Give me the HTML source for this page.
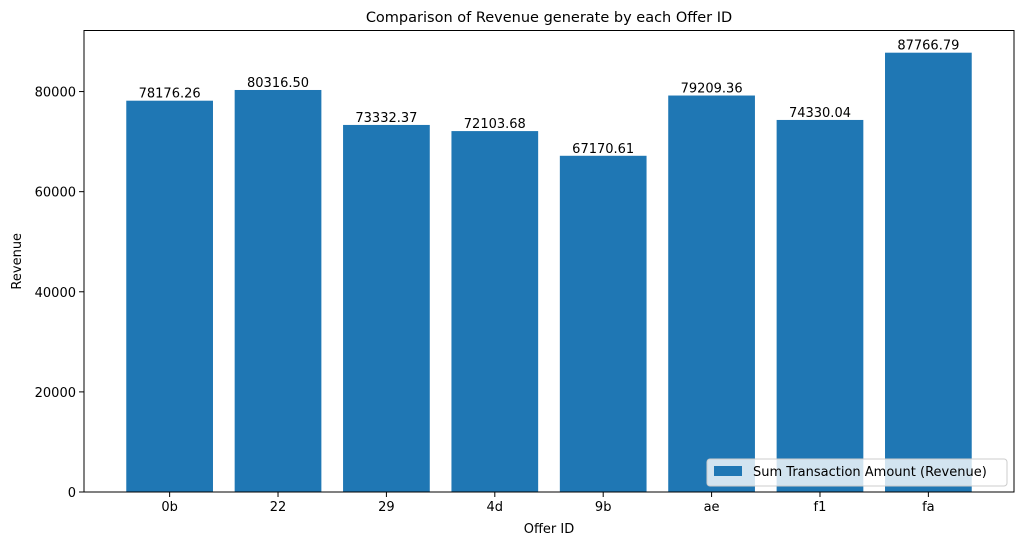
<!DOCTYPE html>
<html><head><meta charset="utf-8"><style>
body{margin:0;background:#fff;font-family:"DejaVu Sans","Liberation Sans",sans-serif;}
svg text{font-family:"DejaVu Sans","Liberation Sans",sans-serif;}
</style></head><body>
<svg id="chart" width="1023" height="545" xmlns="http://www.w3.org/2000/svg"></svg>
<script>
const categories=["0b","22","29","4d","9b","ae","f1","fa"];
const revenues=[78176.26,80316.50,73332.37,72103.68,67170.61,79209.36,74330.04,87766.79];
const yTicks=[0,20000,40000,60000,80000];
const NS="http://www.w3.org/2000/svg";
const svg=document.getElementById('chart');
const L=84,R=1014,T=30.5,B=492;
const xmin=-0.79,xmax=7.79,ymax=92200;
const xs=v=>L+(v-xmin)/(xmax-xmin)*(R-L);
const ys=v=>B-v/ymax*(B-T);
function mk(tag,attrs,parent){const e=document.createElementNS(NS,tag);for(const k in attrs)e.setAttribute(k,attrs[k]);(parent||svg).appendChild(e);return e;}
const title=mk('text',{x:(L+R)/2,y:22,'text-anchor':'middle','font-size':14.5});
title.textContent="Comparison of Revenue generate by each Offer ID";


categories.forEach((c,i)=>{
  const x0=xs(i-0.4),x1=xs(i+0.4),y=ys(revenues[i]);
  const r=mk('rect',{x:x0,y:y,width:x1-x0,height:B-y,fill:'#1f77b4'});
  
  
  const t=mk('text',{x:xs(i),y:y-3,'text-anchor':'middle','font-size':13});
  t.textContent=revenues[i].toFixed(2);
  
  
  mk('line',{x1:xs(i),x2:xs(i),y1:B,y2:B+5,stroke:'#000','stroke-width':1});
  const lt=mk('text',{x:xs(i),y:B+19,'text-anchor':'middle','font-size':13});
  lt.textContent=c;
  
  
});
yTicks.forEach(v=>{
  const y=ys(v);
  mk('line',{x1:L-5,x2:L,y1:y,y2:y,stroke:'#000','stroke-width':1});
  const t=mk('text',{x:L-8,y:y+5,'text-anchor':'end','font-size':13});
  t.textContent=v;
  
  
});
const frame=mk('rect',{x:L,y:T,width:R-L,height:B-T,fill:'none',stroke:'#000','stroke-width':1});


const xl=mk('text',{x:(L+R)/2,y:533,'text-anchor':'middle','font-size':13});
xl.textContent="Offer ID";


const yl=mk('text',{x:0,y:0,'text-anchor':'middle','font-size':13,transform:'translate(21,'+((T+B)/2)+') rotate(-90)'});
yl.textContent="Revenue";


const lg=mk('g',{});


mk('rect',{x:707,y:459,width:300,height:27,rx:3,fill:'#fff','fill-opacity':0.8,stroke:'#ccc'},lg);
mk('rect',{x:714,y:466,width:28,height:10,fill:'#1f77b4'},lg);
const lt=mk('text',{x:753,y:476,'font-size':13},lg);
lt.textContent="Sum Transaction Amount (Revenue)";
</script>
</body></html>
